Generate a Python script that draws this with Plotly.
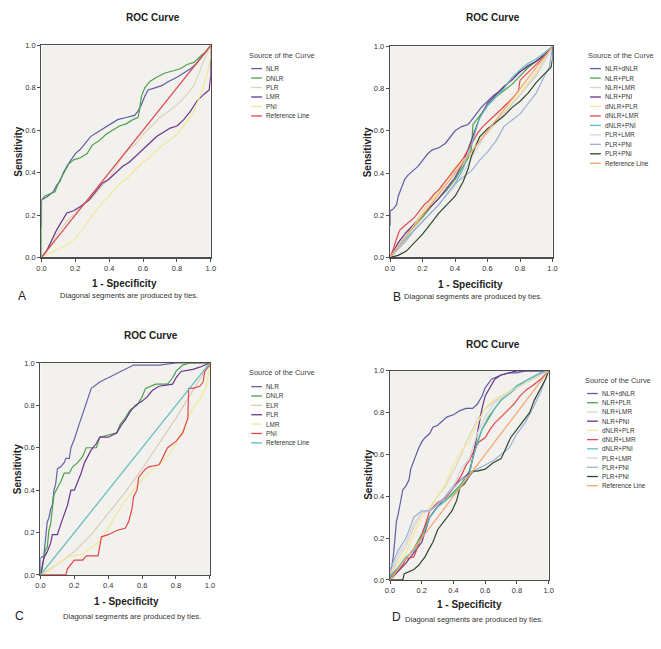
import plotly.graph_objects as go

# ------------------------------------------------------------------ data
TICK_VALS = [0.0, 0.2, 0.4, 0.6, 0.8, 1.0]
TICK_TEXT = ["0.0", "0.2", "0.4", "0.6", "0.8", "1.0"]
PANEL_LETTERS = ["A", "B", "C", "D"]
CHART_TITLE = "ROC Curve"
X_TITLE = "1 - Specificity"
Y_TITLE = "Sensitivity"
LEGEND_TITLE = "Source of the Curve"
FOOTNOTE = "Diagonal segments are produced by ties."

REF_X = [0.0, 1.0]
REF_Y = [0.0, 1.0]

# ---- Panel A
A_LABELS = ["NLR", "DNLR", "PLR", "LMR", "PNI", "Reference Line"]
A_NLR_x = [0, 0, 0.02, 0.04, 0.07, 0.09, 0.11, 0.13, 0.15, 0.18, 0.20, 0.23, 0.26, 0.29, 0.33, 0.37, 0.41, 0.45, 0.50, 0.55,
           0.57, 0.59, 0.61, 0.63, 0.67, 0.71, 0.75, 0.80, 0.84, 0.88, 0.91, 0.94, 0.97, 1.0]
A_NLR_y = [0.14, 0.27, 0.28, 0.29, 0.31, 0.34, 0.36, 0.40, 0.43, 0.47, 0.49, 0.51, 0.54, 0.57, 0.59, 0.61, 0.63, 0.65, 0.66, 0.67,
           0.69, 0.72, 0.76, 0.79, 0.80, 0.81, 0.83, 0.85, 0.87, 0.89, 0.91, 0.94, 0.97, 1.0]
A_DNLR_x = [0, 0, 0.02, 0.05, 0.08, 0.10, 0.12, 0.14, 0.16, 0.19, 0.23, 0.27, 0.30, 0.34, 0.38, 0.42, 0.46, 0.50, 0.54, 0.57,
            0.58, 0.59, 0.61, 0.64, 0.68, 0.73, 0.78, 0.82, 0.86, 0.90, 0.94, 0.97, 1.0]
A_DNLR_y = [0, 0.27, 0.29, 0.30, 0.31, 0.35, 0.38, 0.41, 0.44, 0.46, 0.47, 0.49, 0.53, 0.55, 0.58, 0.60, 0.62, 0.63, 0.65, 0.66,
            0.70, 0.76, 0.80, 0.83, 0.85, 0.87, 0.88, 0.89, 0.91, 0.92, 0.95, 0.97, 1.0]
A_PLR_x = [0, 0.05, 0.10, 0.15, 0.20, 0.25, 0.30, 0.35, 0.40, 0.45, 0.50, 0.55, 0.60, 0.65, 0.70, 0.75, 0.80, 0.85, 0.90, 0.93,
           0.96, 0.98, 1.0]
A_PLR_y = [0, 0.05, 0.12, 0.17, 0.21, 0.25, 0.28, 0.33, 0.37, 0.44, 0.50, 0.53, 0.58, 0.62, 0.66, 0.69, 0.72, 0.76, 0.81, 0.87,
           0.93, 0.97, 1.0]
A_LMR_x = [0, 0.03, 0.06, 0.09, 0.12, 0.15, 0.19, 0.23, 0.28, 0.32, 0.36, 0.40, 0.44, 0.48, 0.52, 0.56, 0.60, 0.64, 0.68, 0.72,
           0.76, 0.80, 0.84, 0.88, 0.92, 0.96, 0.99, 1.0, 1.0]
A_LMR_y = [0, 0.03, 0.08, 0.13, 0.17, 0.21, 0.22, 0.24, 0.27, 0.31, 0.35, 0.37, 0.40, 0.43, 0.45, 0.48, 0.51, 0.54, 0.57, 0.59,
           0.61, 0.62, 0.65, 0.69, 0.74, 0.77, 0.79, 0.86, 1.0]
A_PNI_x = [0, 0.05, 0.10, 0.15, 0.20, 0.25, 0.30, 0.35, 0.40, 0.45, 0.50, 0.55, 0.60, 0.65, 0.70, 0.75, 0.80, 0.85, 0.90, 0.95,
           0.98, 1.0, 1.0]
A_PNI_y = [0, 0.02, 0.04, 0.06, 0.09, 0.14, 0.20, 0.25, 0.29, 0.34, 0.37, 0.41, 0.45, 0.48, 0.52, 0.55, 0.58, 0.63, 0.69, 0.79,
           0.87, 0.95, 1.0]

# ---- Panel B
B_LABELS = ["NLR+dNLR", "NLR+PLR", "NLR+LMR", "NLR+PNI", "dNLR+PLR", "dNLR+LMR", "dNLR+PNI",
            "PLR+LMR", "PLR+PNI", "PLR+PNI", "Reference Line"]
B_NLRdNLR_x = [0, 0, 0.02, 0.04, 0.05, 0.07, 0.09, 0.11, 0.14, 0.17, 0.20, 0.23, 0.26, 0.30, 0.34, 0.37, 0.40, 0.44, 0.48, 0.50,
               0.53, 0.56, 0.60, 0.64, 0.68, 0.72, 0.75, 0.78, 0.82, 0.86, 0.90, 0.94, 0.97, 1.0]
B_NLRdNLR_y = [0.15, 0.22, 0.23, 0.25, 0.29, 0.33, 0.37, 0.39, 0.41, 0.43, 0.46, 0.49, 0.51, 0.52, 0.54, 0.57, 0.60, 0.62, 0.63, 0.65,
               0.68, 0.71, 0.74, 0.77, 0.79, 0.82, 0.85, 0.87, 0.89, 0.91, 0.93, 0.95, 0.97, 1.0]
B_NLRPLR_x = [0, 0.05, 0.10, 0.15, 0.20, 0.25, 0.30, 0.35, 0.40, 0.45, 0.48, 0.50, 0.51, 0.55, 0.60, 0.65, 0.70, 0.75, 0.80, 0.85,
              0.90, 0.95, 1.0]
B_NLRPLR_y = [0, 0.06, 0.11, 0.15, 0.19, 0.24, 0.28, 0.32, 0.37, 0.43, 0.47, 0.51, 0.63, 0.67, 0.72, 0.76, 0.79, 0.82, 0.86, 0.90,
              0.93, 0.96, 1.0]
B_NLRLMR_x = [0, 0.05, 0.10, 0.15, 0.20, 0.25, 0.30, 0.35, 0.40, 0.45, 0.50, 0.60, 0.70, 0.80, 0.90, 1.0]
B_NLRLMR_y = [0, 0.06, 0.12, 0.16, 0.22, 0.27, 0.32, 0.37, 0.41, 0.46, 0.50, 0.59, 0.68, 0.77, 0.87, 1.0]
B_NLRPNI_x = [0, 0.05, 0.10, 0.15, 0.20, 0.25, 0.30, 0.35, 0.40, 0.45, 0.50, 0.55, 0.60, 0.65, 0.70, 0.75, 0.80, 0.85, 0.90, 0.95, 1.0]
B_NLRPNI_y = [0, 0.07, 0.12, 0.16, 0.20, 0.24, 0.28, 0.33, 0.38, 0.45, 0.55, 0.66, 0.73, 0.77, 0.81, 0.84, 0.88, 0.91, 0.93, 0.96, 1.0]
B_dNLRPLR_x = [0, 0.10, 0.20, 0.30, 0.35, 0.40, 0.45, 0.50, 0.60, 0.70, 0.80, 0.90, 1.0]
B_dNLRPLR_y = [0, 0.10, 0.21, 0.31, 0.37, 0.43, 0.46, 0.50, 0.60, 0.69, 0.78, 0.88, 1.0]
B_dNLRLMR_x = [0, 0.02, 0.04, 0.06, 0.09, 0.12, 0.15, 0.18, 0.21, 0.24, 0.27, 0.30, 0.33, 0.36, 0.39, 0.42, 0.45, 0.48, 0.51, 0.54,
               0.57, 0.60, 0.64, 0.68, 0.72, 0.76, 0.79, 0.80, 0.84, 0.88, 0.92, 0.96, 1.0]
B_dNLRLMR_y = [0, 0.04, 0.09, 0.13, 0.15, 0.17, 0.19, 0.22, 0.25, 0.27, 0.30, 0.32, 0.35, 0.38, 0.41, 0.44, 0.47, 0.51, 0.55, 0.59,
               0.62, 0.64, 0.67, 0.70, 0.73, 0.76, 0.79, 0.84, 0.87, 0.90, 0.93, 0.96, 1.0]
B_dNLRPNI_x = [0, 0.05, 0.10, 0.15, 0.20, 0.25, 0.30, 0.35, 0.40, 0.45, 0.50, 0.55, 0.60, 0.65, 0.70, 0.75, 0.80, 0.85, 0.90, 0.95, 1.0]
B_dNLRPNI_y = [0, 0.05, 0.09, 0.13, 0.17, 0.21, 0.25, 0.30, 0.35, 0.42, 0.53, 0.66, 0.72, 0.76, 0.80, 0.85, 0.89, 0.92, 0.94, 0.97, 1.0]
B_PLRLMR_x = [0, 0.10, 0.20, 0.30, 0.40, 0.45, 0.50, 0.60, 0.70, 0.80, 0.90, 1.0]
B_PLRLMR_y = [0, 0.11, 0.17, 0.25, 0.34, 0.40, 0.47, 0.60, 0.68, 0.77, 0.86, 1.0]
B_PLRPNI_x = [0, 0.05, 0.10, 0.15, 0.20, 0.25, 0.30, 0.35, 0.40, 0.45, 0.50, 0.55, 0.60, 0.65, 0.70, 0.75, 0.80, 0.85, 0.90, 0.95,
              0.98, 1.0]
B_PLRPNI_y = [0, 0.04, 0.08, 0.13, 0.17, 0.21, 0.25, 0.30, 0.35, 0.38, 0.41, 0.46, 0.50, 0.55, 0.62, 0.65, 0.68, 0.73, 0.78, 0.86,
              0.90, 1.0]
B_PLRPNI2_x = [0, 0.05, 0.10, 0.15, 0.20, 0.25, 0.30, 0.35, 0.40, 0.45, 0.48, 0.50, 0.55, 0.60, 0.65, 0.70, 0.75, 0.80, 0.85, 0.90,
               0.95, 0.99, 1.0, 1.0]
B_PLRPNI2_y = [0, 0.01, 0.03, 0.07, 0.11, 0.16, 0.21, 0.25, 0.29, 0.36, 0.42, 0.48, 0.57, 0.61, 0.64, 0.67, 0.71, 0.74, 0.78, 0.83,
               0.87, 0.90, 0.94, 1.0]

# ---- Panel C
C_LABELS = ["NLR", "DNLR", "ELR", "PLR", "LMR", "PNI", "Reference Line"]
C_NLR_x = [0, 0, 0.02, 0.03, 0.04, 0.05, 0.06, 0.07, 0.08, 0.09, 0.10, 0.12, 0.14, 0.15, 0.17, 0.18, 0.20, 0.22, 0.24, 0.26,
           0.28, 0.30, 0.35, 0.40, 0.45, 0.50, 0.55, 0.70, 0.80, 1.0]
C_NLR_y = [0, 0.08, 0.09, 0.18, 0.25, 0.27, 0.31, 0.33, 0.40, 0.43, 0.50, 0.51, 0.53, 0.55, 0.55, 0.60, 0.64, 0.69, 0.74, 0.79,
           0.84, 0.88, 0.91, 0.93, 0.95, 0.97, 0.99, 0.99, 1.0, 1.0]
C_DNLR_x = [0, 0.01, 0.02, 0.03, 0.04, 0.05, 0.06, 0.07, 0.08, 0.10, 0.12, 0.14, 0.17, 0.19, 0.22, 0.25, 0.27, 0.33, 0.35, 0.40,
            0.45, 0.47, 0.50, 0.53, 0.57, 0.60, 0.62, 0.68, 0.75, 0.78, 0.80, 0.84, 0.88, 1.0]
C_DNLR_y = [0, 0.03, 0.08, 0.12, 0.13, 0.21, 0.24, 0.32, 0.38, 0.41, 0.44, 0.48, 0.48, 0.51, 0.53, 0.56, 0.60, 0.60, 0.65, 0.66,
            0.67, 0.71, 0.74, 0.78, 0.80, 0.84, 0.88, 0.90, 0.90, 0.93, 0.96, 0.99, 1.0, 1.0]
C_ELR_x = [0, 0.10, 0.20, 0.30, 0.40, 0.50, 0.60, 0.70, 0.80, 0.90, 1.0]
C_ELR_y = [0, 0.05, 0.11, 0.19, 0.29, 0.39, 0.50, 0.62, 0.74, 0.87, 1.0]
C_PLR_x = [0, 0.01, 0.02, 0.04, 0.06, 0.07, 0.10, 0.12, 0.14, 0.16, 0.18, 0.20, 0.22, 0.24, 0.26, 0.28, 0.30, 0.33, 0.35, 0.40,
           0.45, 0.48, 0.50, 0.53, 0.56, 0.60, 0.63, 0.66, 0.70, 0.78, 0.80, 0.83, 0.90, 0.94, 0.97, 1.0]
C_PLR_y = [0, 0.04, 0.08, 0.11, 0.15, 0.19, 0.19, 0.24, 0.29, 0.33, 0.40, 0.40, 0.44, 0.48, 0.53, 0.56, 0.59, 0.62, 0.65, 0.65,
           0.67, 0.71, 0.73, 0.77, 0.80, 0.82, 0.84, 0.87, 0.89, 0.90, 0.93, 0.96, 0.97, 0.98, 0.99, 1.0]
C_LMR_x = [0, 0.05, 0.10, 0.15, 0.20, 0.25, 0.30, 0.35, 0.40, 0.45, 0.50, 0.55, 0.60, 0.65, 0.70, 0.75, 0.80, 0.85, 0.90, 0.95,
           0.98, 1.0]
C_LMR_y = [0, 0.02, 0.05, 0.08, 0.09, 0.10, 0.13, 0.16, 0.22, 0.29, 0.35, 0.40, 0.45, 0.49, 0.52, 0.56, 0.62, 0.70, 0.79, 0.84,
           0.89, 1.0]
C_PNI_x = [0, 0.15, 0.16, 0.18, 0.20, 0.25, 0.27, 0.34, 0.35, 0.36, 0.40, 0.45, 0.50, 0.52, 0.54, 0.55, 0.57, 0.58, 0.60, 0.62,
           0.64, 0.70, 0.72, 0.75, 0.80, 0.84, 0.87, 0.875, 0.90, 0.94, 0.96, 0.97, 1.0, 1.0]
C_PNI_y = [0, 0, 0.03, 0.05, 0.07, 0.07, 0.09, 0.09, 0.14, 0.18, 0.19, 0.21, 0.22, 0.25, 0.31, 0.37, 0.40, 0.46, 0.48, 0.50,
           0.51, 0.52, 0.55, 0.60, 0.63, 0.67, 0.74, 0.88, 0.88, 0.89, 0.91, 0.96, 0.99, 1.0]

# ---- Panel D
D_LABELS = ["NLR+dNLR", "NLR+PLR", "NLR+LMR", "NLR+PNI", "dNLR+PLR", "dNLR+LMR", "dNLR+PNI",
            "PLR+LMR", "PLR+PNI", "PLR+PNI", "Reference Line"]
D_NLRdNLR_x = [0, 0, 0.01, 0.02, 0.03, 0.04, 0.05, 0.06, 0.07, 0.08, 0.10, 0.12, 0.13, 0.15, 0.16, 0.18, 0.20, 0.22, 0.25, 0.27,
               0.30, 0.33, 0.36, 0.40, 0.44, 0.48, 0.52, 0.55, 0.58, 0.60, 0.64, 0.70, 0.75, 0.80, 0.85, 1.0]
D_NLRdNLR_y = [0, 0.02, 0.06, 0.11, 0.19, 0.28, 0.31, 0.35, 0.40, 0.43, 0.45, 0.48, 0.53, 0.57, 0.60, 0.63, 0.66, 0.68, 0.70, 0.73,
               0.74, 0.76, 0.78, 0.79, 0.81, 0.82, 0.82, 0.84, 0.88, 0.92, 0.96, 0.98, 0.99, 0.99, 1.0, 1.0]
D_NLRPLR_x = [0, 0.05, 0.10, 0.15, 0.20, 0.25, 0.30, 0.35, 0.40, 0.45, 0.50, 0.53, 0.55, 0.58, 0.62, 0.66, 0.70, 0.75, 0.80, 0.85,
              0.90, 0.95, 1.0]
D_NLRPLR_y = [0.01, 0.05, 0.10, 0.15, 0.22, 0.30, 0.35, 0.38, 0.42, 0.46, 0.52, 0.60, 0.66, 0.72, 0.77, 0.82, 0.86, 0.89, 0.92, 0.95,
              0.97, 0.99, 1.0]
D_NLRLMR_x = [0, 0.05, 0.10, 0.15, 0.20, 0.25, 0.30, 0.35, 0.40, 0.45, 0.48, 0.52, 0.56, 0.60, 0.65, 0.70, 0.75, 0.80, 0.85, 0.90,
              0.95, 1.0]
D_NLRLMR_y = [0.02, 0.10, 0.16, 0.25, 0.32, 0.34, 0.40, 0.45, 0.52, 0.60, 0.66, 0.72, 0.78, 0.82, 0.85, 0.88, 0.90, 0.93, 0.95, 0.97,
              0.99, 1.0]
D_NLRPNI_x = [0, 0.05, 0.10, 0.15, 0.20, 0.25, 0.30, 0.35, 0.40, 0.45, 0.50, 0.52, 0.54, 0.56, 0.58, 0.60, 0.63, 0.66, 0.70, 0.75,
              0.80, 1.0]
D_NLRPNI_y = [0, 0.04, 0.08, 0.13, 0.18, 0.30, 0.35, 0.40, 0.45, 0.48, 0.51, 0.58, 0.66, 0.74, 0.82, 0.88, 0.92, 0.96, 0.98, 0.99,
              1.0, 1.0]
D_dNLRPLR_x = [0, 0.05, 0.10, 0.15, 0.20, 0.25, 0.30, 0.35, 0.40, 0.45, 0.50, 0.55, 0.60, 0.65, 0.70, 0.75, 0.80, 0.90, 1.0]
D_dNLRPLR_y = [0.02, 0.08, 0.13, 0.22, 0.30, 0.35, 0.40, 0.46, 0.55, 0.62, 0.66, 0.75, 0.82, 0.86, 0.88, 0.90, 0.92, 0.96, 1.0]
D_dNLRLMR_x = [0, 0.05, 0.08, 0.10, 0.15, 0.18, 0.20, 0.22, 0.25, 0.30, 0.35, 0.40, 0.45, 0.48, 0.50, 0.53, 0.56, 0.60, 0.63, 0.66,
               0.70, 0.74, 0.78, 0.82, 0.86, 0.90, 0.95, 1.0]
D_dNLRLMR_y = [0.02, 0.05, 0.07, 0.10, 0.11, 0.17, 0.22, 0.26, 0.33, 0.37, 0.39, 0.44, 0.50, 0.55, 0.57, 0.62, 0.66, 0.68, 0.72, 0.75,
               0.78, 0.81, 0.84, 0.88, 0.91, 0.93, 0.96, 1.0]
D_dNLRPNI_x = [0, 0.05, 0.10, 0.15, 0.20, 0.25, 0.30, 0.35, 0.40, 0.45, 0.50, 0.52, 0.55, 0.58, 0.62, 0.66, 0.70, 0.75, 0.80, 0.85,
               0.90, 0.95, 1.0]
D_dNLRPNI_y = [0.02, 0.06, 0.11, 0.14, 0.20, 0.30, 0.35, 0.38, 0.41, 0.45, 0.50, 0.58, 0.65, 0.72, 0.78, 0.82, 0.86, 0.89, 0.93, 0.95,
               0.97, 0.99, 1.0]
D_PLRLMR_x = [0, 0.05, 0.10, 0.15, 0.20, 0.25, 0.30, 0.35, 0.40, 0.45, 0.50, 0.55, 0.60, 0.65, 0.70, 0.80, 0.90, 1.0]
D_PLRLMR_y = [0.03, 0.12, 0.18, 0.27, 0.32, 0.33, 0.36, 0.40, 0.45, 0.53, 0.58, 0.70, 0.78, 0.84, 0.87, 0.92, 0.96, 1.0]
D_PLRPNI_x = [0, 0.05, 0.10, 0.15, 0.20, 0.25, 0.30, 0.35, 0.40, 0.45, 0.50, 0.55, 0.60, 0.65, 0.70, 0.75, 0.80, 0.85, 0.90, 0.95, 1.0]
D_PLRPNI_y = [0.05, 0.14, 0.20, 0.30, 0.33, 0.33, 0.36, 0.40, 0.44, 0.48, 0.50, 0.53, 0.55, 0.57, 0.60, 0.63, 0.70, 0.75, 0.82, 0.90, 1.0]
D_PLRPNI2_x = [0, 0.08, 0.09, 0.12, 0.15, 0.18, 0.22, 0.24, 0.27, 0.30, 0.33, 0.36, 0.39, 0.42, 0.44, 0.47, 0.50, 0.52, 0.55, 0.60,
               0.65, 0.70, 0.73, 0.76, 0.80, 0.84, 0.88, 0.91, 0.95, 0.98, 1.0]
D_PLRPNI2_y = [0, 0, 0.03, 0.04, 0.05, 0.07, 0.11, 0.14, 0.18, 0.24, 0.27, 0.30, 0.33, 0.38, 0.44, 0.46, 0.50, 0.52, 0.52, 0.53,
               0.56, 0.58, 0.63, 0.68, 0.72, 0.76, 0.80, 0.86, 0.92, 0.96, 1.0]

# ------------------------------------------------------------------ styles
BLUE, GREEN, BEIGE, PURPLE = "#5b5ea8", "#4ba24b", "#ddd4bc", "#6b348e"
YELLOW, RED, TEAL, LGREY = "#f1e897", "#e0474d", "#5fbcbc", "#d4d4dc"
LBLUE, DKGREEN, ORANGE = "#9cb0d8", "#2f472f", "#f2a56a"
PLOT_BG = "#f3f1ed"
FRAME = "#4d4d4d"
FONT = "Liberation Sans, Arial, sans-serif"
W, H = 661, 649

PANELS = [
    dict(series=[(A_NLR_x, A_NLR_y), (A_DNLR_x, A_DNLR_y), (A_PLR_x, A_PLR_y), (A_LMR_x, A_LMR_y),
                 (A_PNI_x, A_PNI_y), (REF_X, REF_Y)],
         labels=A_LABELS, colors=[BLUE, GREEN, BEIGE, PURPLE, YELLOW, RED],
         box=(37, 42, 209, 257), title=(150, 14), xt=(121, 283), yt=(14, 150), letter=(17, 296), foot=(126, 296),
         leg=(246, 52, 250, 261, 263, 65.5, 9.6)),
    dict(series=[(B_NLRdNLR_x, B_NLRdNLR_y), (B_NLRPLR_x, B_NLRPLR_y), (B_NLRLMR_x, B_NLRLMR_y),
                 (B_NLRPNI_x, B_NLRPNI_y), (B_dNLRPLR_x, B_dNLRPLR_y), (B_dNLRLMR_x, B_dNLRLMR_y),
                 (B_dNLRPNI_x, B_dNLRPNI_y), (B_PLRLMR_x, B_PLRLMR_y), (B_PLRPNI_x, B_PLRPNI_y),
                 (B_PLRPNI2_x, B_PLRPNI2_y), (REF_X, REF_Y)],
         labels=B_LABELS, colors=[BLUE, GREEN, BEIGE, PURPLE, YELLOW, RED, TEAL, LGREY, LBLUE, DKGREEN, ORANGE],
         box=(391, 43, 556, 257), title=(496, 14), xt=(473, 284), yt=(369, 150), letter=(398, 297), foot=(475, 297),
         leg=(590, 52, 594, 605, 607, 65.5, 9.6)),
    dict(series=[(C_NLR_x, C_NLR_y), (C_DNLR_x, C_DNLR_y), (C_ELR_x, C_ELR_y), (C_PLR_x, C_PLR_y),
                 (C_LMR_x, C_LMR_y), (C_PNI_x, C_PNI_y), (REF_X, REF_Y)],
         labels=C_LABELS, colors=["#6264aa", GREEN, "#dccbb0", PURPLE, YELLOW, RED, TEAL],
         box=(36, 364, 208, 579), title=(148, 336), xt=(123, 606), yt=(13, 472), letter=(15, 621), foot=(129, 621),
         leg=(246, 373.5, 250, 261, 263, 388, 9.5)),
    dict(series=[(D_NLRdNLR_x, D_NLRdNLR_y), (D_NLRPLR_x, D_NLRPLR_y), (D_NLRLMR_x, D_NLRLMR_y),
                 (D_NLRPNI_x, D_NLRPNI_y), (D_dNLRPLR_x, D_dNLRPLR_y), (D_dNLRLMR_x, D_dNLRLMR_y),
                 (D_dNLRPNI_x, D_dNLRPNI_y), (D_PLRLMR_x, D_PLRLMR_y), (D_PLRPNI_x, D_PLRPNI_y),
                 (D_PLRPNI2_x, D_PLRPNI2_y), (REF_X, REF_Y)],
         labels=D_LABELS, colors=[BLUE, GREEN, BEIGE, PURPLE, YELLOW, RED, TEAL, LGREY, LBLUE, DKGREEN, ORANGE],
         box=(391, 372, 552, 584), title=(495, 345), xt=(472, 609), yt=(369, 477), letter=(398, 622), foot=(476, 624),
         leg=(587, 381.5, 591, 602, 604, 395, 9.35)),
]


def fx(px):
    return px / W


def fy(py):
    return 1 - py / H


fig = go.Figure()
annotations = []
shapes = []
layout_axes = {}

for i, p in enumerate(PANELS):
    n = "" if i == 0 else str(i + 1)
    xa, ya = "x" + n, "y" + n
    x0, y0, x1, y1 = p["box"]
    for (xs, ys), lab, col in zip(p["series"], p["labels"], p["colors"]):
        fig.add_trace(go.Scatter(x=xs, y=ys, mode="lines", name=lab, xaxis=xa, yaxis=ya,
                                 line=dict(color=col, width=1.2), showlegend=False, hoverinfo="skip"))
    axcommon = dict(range=[0, 1], tickvals=TICK_VALS, ticktext=TICK_TEXT, showgrid=False, zeroline=False,
                    showline=True, mirror=True, linecolor=FRAME, linewidth=1.3, ticks="outside", ticklen=3,
                    tickcolor=FRAME, tickwidth=1, tickfont=dict(size=7.5, color="#333", family=FONT))
    layout_axes["xaxis" + n] = dict(axcommon, domain=[fx(x0), fx(x1)], anchor=ya)
    layout_axes["yaxis" + n] = dict(axcommon, domain=[fy(y1), fy(y0)], anchor=xa)

    annotations.append(dict(text="<b>" + CHART_TITLE + "</b>", x=fx(p["title"][0]), y=fy(p["title"][1]),
                            xref="paper", yref="paper", showarrow=False, xanchor="center", yanchor="middle",
                            font=dict(size=10, color="#222", family=FONT)))
    annotations.append(dict(text="<b>" + X_TITLE + "</b>", x=fx(p["xt"][0]), y=fy(p["xt"][1]),
                            xref="paper", yref="paper", showarrow=False, xanchor="center", yanchor="middle",
                            font=dict(size=10, color="#222", family=FONT)))
    annotations.append(dict(text="<b>" + Y_TITLE + "</b>", x=fx(p["yt"][0]), y=fy(p["yt"][1]), textangle=-90,
                            xref="paper", yref="paper", showarrow=False, xanchor="center", yanchor="middle",
                            font=dict(size=10, color="#222", family=FONT)))
    annotations.append(dict(text=PANEL_LETTERS[i], x=fx(p["letter"][0]), y=fy(p["letter"][1]),
                            xref="paper", yref="paper", showarrow=False, xanchor="center", yanchor="middle",
                            font=dict(size=12, color="#222", family=FONT)))
    annotations.append(dict(text=FOOTNOTE, x=fx(p["foot"][0]), y=fy(p["foot"][1]),
                            xref="paper", yref="paper", showarrow=False, xanchor="center", yanchor="middle",
                            font=dict(size=7.6, color="#333", family=FONT)))
    tx, ty, sx0, sx1, lx, ly0, dy = p["leg"]
    annotations.append(dict(text=LEGEND_TITLE, x=fx(tx), y=fy(ty), xref="paper", yref="paper", showarrow=False,
                            xanchor="left", yanchor="middle", font=dict(size=7.4, color="#444", family=FONT)))
    for k, (lab, col) in enumerate(zip(p["labels"], p["colors"])):
        yy = ly0 + k * dy
        shapes.append(dict(type="line", xref="paper", yref="paper", x0=fx(sx0), x1=fx(sx1), y0=fy(yy), y1=fy(yy),
                           line=dict(color=col, width=1.3)))
        annotations.append(dict(text=lab, x=fx(lx), y=fy(yy), xref="paper", yref="paper", showarrow=False,
                                xanchor="left", yanchor="middle", font=dict(size=6.4, color="#333", family=FONT)))

fig.update_layout(width=W, height=H, margin=dict(l=0, r=0, t=0, b=0), paper_bgcolor="white",
                  plot_bgcolor=PLOT_BG, showlegend=False, annotations=annotations, shapes=shapes,
                  font=dict(family=FONT), **layout_axes)

fig.write_html("out.html", config={"displayModeBar": False, "staticPlot": True},
               post_script="document.body.style.margin='0px';")
